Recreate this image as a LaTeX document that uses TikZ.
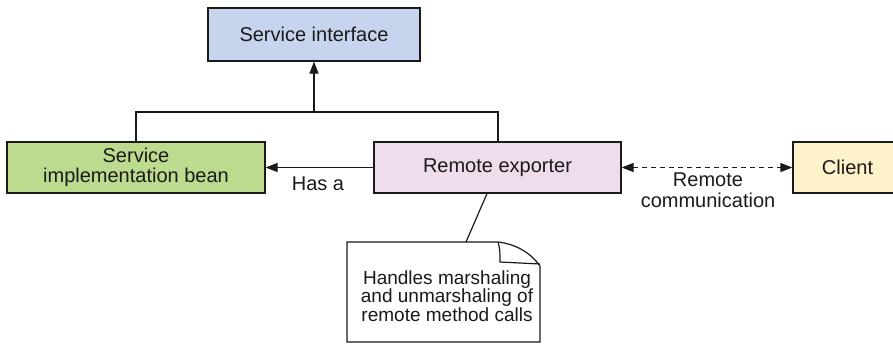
\documentclass[tikz,border=0pt]{standalone}
\usepackage{fontspec}
\setmainfont{Liberation Sans}
\usetikzlibrary{arrows.meta,calc}
\definecolor{siblue}{HTML}{C7D4EE}
\definecolor{sibgreen}{HTML}{BDDB8F}
\definecolor{repink}{HTML}{EEDDEC}
\definecolor{clyellow}{HTML}{FEF2CB}
\definecolor{ink}{HTML}{1A1A1A}
\tikzset{
  box/.style={draw=ink, line width=1.2pt, inner sep=0pt, align=center, text=ink,
    font=\fontsize{20}{20.5}\selectfont},
  lbl/.style={inner sep=0pt, align=center, text=ink, font=\fontsize{20}{20.5}\selectfont},
  conn/.style={draw=ink, line width=1.2pt},
  tip/.style={-{Triangle[length=12pt,width=9pt]}},
}
\begin{document}
\begin{tikzpicture}[x=1pt,y=-1pt]
\useasboundingbox (0,0) rectangle (893,343);
\node[box, fill=siblue, minimum width=212pt, minimum height=53pt] (si) at (314,34.5) {Service interface};
\node[box, fill=sibgreen, minimum width=258pt, minimum height=51pt] (sib) at (136,167.5) {Service\\implementation bean};
\node[box, fill=repink, minimum width=247pt, minimum height=51pt] (re) at (497.5,167.5) {Remote exporter};
\node[box, fill=clyellow, minimum width=109pt, minimum height=51pt] (cl) at (847.5,167.5) {Client};
% tree connector
\coordinate (j) at (314,112);
\coordinate (jl) at (136,112);
\coordinate (jr) at (498,112);
\draw[conn] (sib.north -| jl) -- (jl) -- (jr) -- (re.north -| jr);
\draw[conn, tip] (j) -- (si.south);
% has a
\draw[conn, tip] (re.west) -- (sib.east);
\node[lbl] (hasa) at (318,183.5) {Has a};
% remote communication
\draw[conn, dashed, dash pattern=on 5pt off 4pt, {Triangle[length=12pt,width=9pt]}-{Triangle[length=12pt,width=9pt]}] (re.east) -- (cl.west);
\node[lbl] (rc) at (708,190) {Remote\\communication};
% note
\draw[draw=ink, line width=1.2pt, fill=white]
  (347,342) -- (347,242) -- (498,242) .. controls (515,244) and (530,252) .. (540,266) -- (540,342) -- cycle;
\draw[draw=ink, line width=1.2pt] (498,242) .. controls (500,250) .. (500,262) -- (540,264);
\node[lbl, font=\fontsize{19}{18.4}\selectfont] (note) at (447,296) {Handles marshaling\\and unmarshaling of\\remote method calls};
\coordinate (notetop) at (466,242);
\draw[conn] (notetop) -- (re.south -| 487,0);
\end{tikzpicture}
\end{document}
